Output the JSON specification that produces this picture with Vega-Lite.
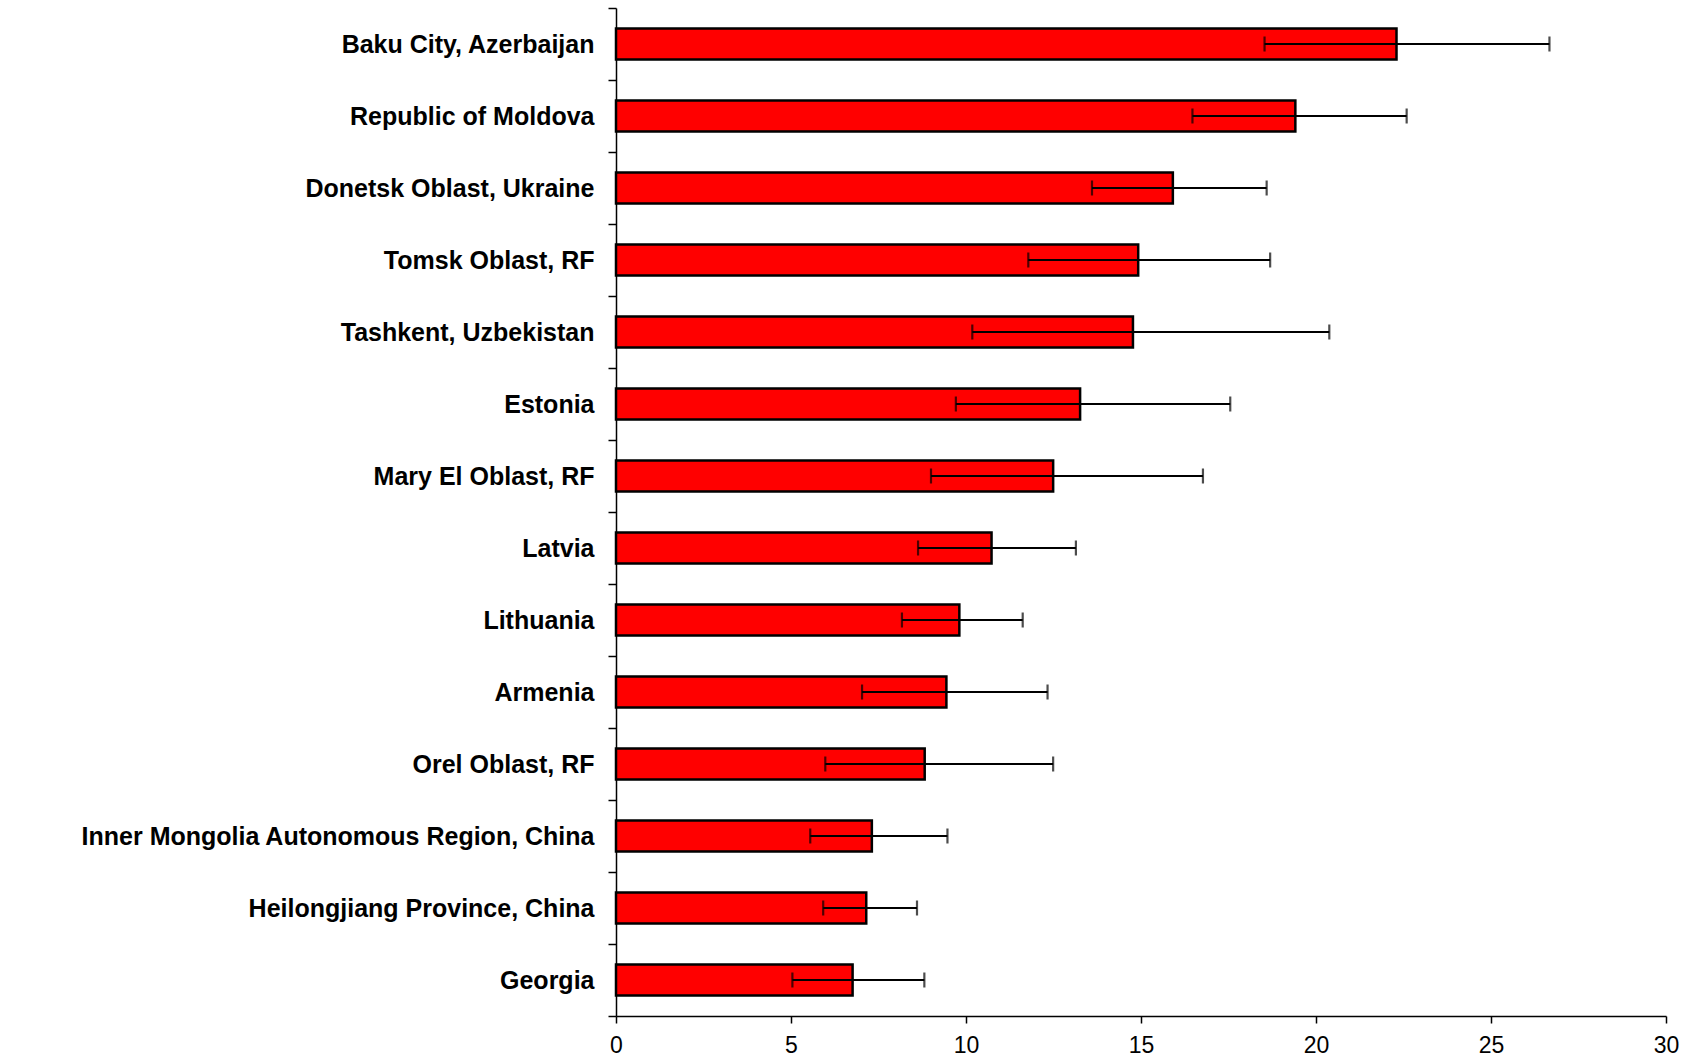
{
  "$schema": "https://vega.github.io/schema/vega-lite/v6.json",
  "autosize": {"type": "none"},
  "padding": {"left": 616, "top": 8, "right": 28, "bottom": 44},
  "width": 1050,
  "height": 1008,
  "background": "white",
  "config": {
    "view": {"stroke": null},
    "axisX": {
      "title": null,
      "grid": false,
      "labelFlush": false,
      "domainColor": "black",
      "domainWidth": 1.5,
      "tickColor": "black",
      "tickWidth": 1.5,
      "tickSize": 7,
      "labelPadding": 11,
      "labelFont": "Liberation Sans",
      "labelFontSize": 23,
      "labelColor": "black"
    }
  },
  "data": {
    "values": [
      {"region": "Baku City, Azerbaijan", "mean": 22.3, "low": 18.53, "high": 26.67},
      {"region": "Republic of Moldova", "mean": 19.41, "low": 16.47, "high": 22.59},
      {"region": "Donetsk Oblast, Ukraine", "mean": 15.91, "low": 13.6, "high": 18.59},
      {"region": "Tomsk Oblast, RF", "mean": 14.92, "low": 11.78, "high": 18.69},
      {"region": "Tashkent, Uzbekistan", "mean": 14.77, "low": 10.18, "high": 20.38},
      {"region": "Estonia", "mean": 13.26, "low": 9.71, "high": 17.55},
      {"region": "Mary El Oblast, RF", "mean": 12.49, "low": 9.0, "high": 16.77},
      {"region": "Latvia", "mean": 10.73, "low": 8.63, "high": 13.14},
      {"region": "Lithuania", "mean": 9.81, "low": 8.17, "high": 11.62},
      {"region": "Armenia", "mean": 9.44, "low": 7.03, "high": 12.33},
      {"region": "Orel Oblast, RF", "mean": 8.82, "low": 5.98, "high": 12.49},
      {"region": "Inner Mongolia Autonomous Region, China", "mean": 7.31, "low": 5.55, "high": 9.47},
      {"region": "Heilongjiang Province, China", "mean": 7.15, "low": 5.92, "high": 8.6},
      {"region": "Georgia", "mean": 6.76, "low": 5.04, "high": 8.81}
    ]
  },
  "encoding": {
    "y": {
      "field": "region",
      "type": "nominal",
      "sort": {"field": "mean", "order": "descending"},
      "scale": {"paddingInner": 0, "paddingOuter": 0},
      "axis": {
        "title": null,
        "domainColor": "black",
        "domainWidth": 1.5,
        "tickColor": "black",
        "tickWidth": 1.5,
        "tickSize": 8,
        "tickBand": "extent",
        "labelPadding": 14,
        "labelFont": "Liberation Sans",
        "labelFontWeight": "bold",
        "labelFontSize": 25,
        "labelColor": "black",
        "labelLimit": 0
      }
    }
  },
  "layer": [
    {
      "mark": {"type": "bar", "fill": "#FF0000", "stroke": "black", "strokeWidth": 2.5, "height": {"band": 0.43}},
      "encoding": {
        "x": {
          "field": "mean",
          "type": "quantitative",
          "scale": {"domain": [0, 30], "nice": false},
          "axis": {"values": [0, 5, 10, 15, 20, 25, 30]}
        }
      }
    },
    {
      "mark": {"type": "rule", "color": "black", "strokeWidth": 2.2},
      "encoding": {
        "x": {"field": "low", "type": "quantitative"},
        "x2": {"field": "high"}
      }
    },
    {
      "mark": {"type": "tick", "color": "black", "thickness": 2.2, "size": 15},
      "encoding": {
        "x": {"field": "low", "type": "quantitative"}
      }
    },
    {
      "mark": {"type": "tick", "color": "black", "thickness": 2.2, "size": 15},
      "encoding": {
        "x": {"field": "high", "type": "quantitative"}
      }
    }
  ]
}
